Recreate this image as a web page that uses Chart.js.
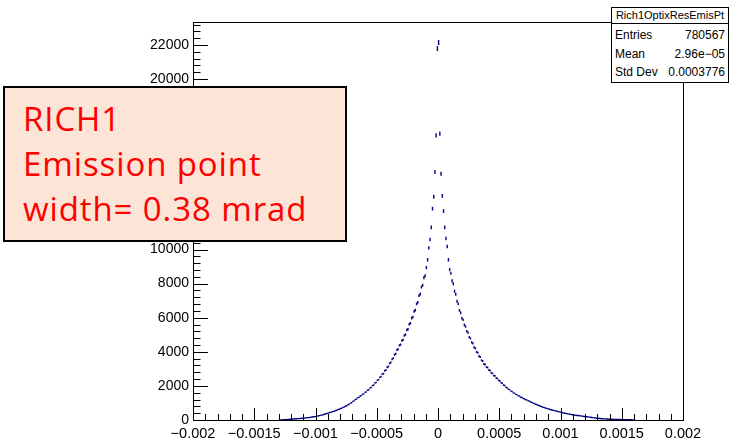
<!DOCTYPE html>
<html>
<head>
<meta charset="utf-8">
<script src="https://cdn.jsdelivr.net/npm/chart.js@4.4.1/dist/chart.umd.min.js"></script>
<style>
  body { margin: 0; background: #fff; }
  #wrap { position: relative; width: 730px; height: 444px; }
  #stats {
    position: absolute; left: 611px; top: 7px; width: 118px; height: 76px;
    box-sizing: border-box; border: 1px solid #000; background: #fff;
    font-family: "Liberation Sans", Arial, sans-serif; color: #000;
  }
  #stats .title { height: 15px; line-height: 15px; font-size: 11px; text-align: center; border-bottom: 1px solid #000; }
  #stats .rows { padding-top: 2px; }
  #stats .row { display: flex; justify-content: space-between; padding: 0 3px; font-size: 12px; height: 18.5px; line-height: 18.5px; }
  #note {
    position: absolute; left: 3px; top: 86px; width: 344px; height: 156px;
    box-sizing: border-box; border: 2px solid #000; background: #fce4d6; color: #ff0000;
    font-family: "Open Sans", "Noto Sans", sans-serif; font-size: 33px; line-height: 45px;
    letter-spacing: 0.9px; padding: 8px 0 0 18px;
  }
</style>
</head>
<body>
<div id="wrap">
  <canvas id="histo"></canvas>
  <div id="stats">
    <div class="title">Rich1OptixResEmisPt</div>
    <div class="rows">
      <div class="row"><span>Entries</span><span>780567</span></div>
      <div class="row"><span>Mean</span><span>2.96e−05</span></div>
      <div class="row"><span>Std Dev</span><span>0.0003776</span></div>
    </div>
  </div>
  <div id="note">RICH1<br>Emission point<br>width= 0.38 mrad</div>
</div>
<script>
(function () {

    // histogram binning (emission point resolution, rad)
    const xMin = -0.002;
    const xMax = 0.002;
    const nBins = 400;
    const yMax = 23350;

    const xTickValues = [-0.002, -0.0015, -0.001, -0.0005, 0, 0.0005, 0.001, 0.0015, 0.002];
    const xTickLabels = ['−0.002', '−0.0015', '−0.001', '−0.0005', '0', '0.0005', '0.001', '0.0015', '0.002'];
    const yTickValues = [0, 2000, 4000, 6000, 8000, 10000, 12000, 14000, 16000, 18000, 20000, 22000];

    // bin contents, first bin at xMin
    const binCounts = [
        0, 0, 0, 0, 0, 0, 0, 0, 0, 0, 0, 0, 0, 0, 0, 0, 0, 0, 0, 0,
        0, 0, 0, 0, 0, 0, 0, 0, 0, 0, 0, 0, 0, 0, 0, 0, 0, 0, 0, 0,
        0, 0, 0, 0, 0, 0, 0, 0, 0, 0, 0, 0, 0, 0, 0, 0, 0, 0, 0, 0,
        0, 0, 0, 0, 0, 0, 0, 0, 0, 0, 0,
        3, 5, 12, 14, 22, 24, 33, 35, 45, 46,
        57, 58, 69, 70, 81, 83, 92, 94, 107, 108,
        121, 123, 139, 141, 150, 168, 172, 191, 196, 219,
        225, 249, 256, 284, 293, 323, 336, 370, 382, 417,
        426, 460, 469, 505, 516, 556, 569, 612, 627, 674,
        690, 742, 760, 818, 838, 899, 922, 991, 1016, 1093,
        1120, 1201, 1232, 1310, 1327, 1408, 1428, 1512, 1534, 1625,
        1648, 1746, 1771, 1878, 1903, 2018, 2047, 2170, 2198, 2331,
        2364, 2505, 2543, 2690, 2726, 2889, 2927, 3099, 3140, 3327,
        3371, 3569, 3617, 3830, 3883, 4111, 4152, 4378, 4419, 4660,
        4703, 4960, 5007, 5281, 5330, 5619, 5674, 5980, 6040, 6372,
        6452, 6818, 6905, 7296, 7390, 7806, 7903, 8352, 8461, 8940,
        9400, 10100, 10590, 11300, 12400, 13100, 14550, 16700, 21800,
        22150, 16800, 14450, 13150, 12250, 11300, 10650, 10180, 9400, 8820,
        8610, 8160, 7990, 7552, 7381, 6968, 6812, 6431, 6290, 5972,
        5878, 5580, 5489, 5207, 5125, 4860, 4790, 4552, 4490, 4265,
        4210, 3998, 3945, 3746, 3698, 3511, 3467, 3290, 3260, 3104,
        3077, 2930, 2902, 2764, 2738, 2608, 2584, 2462, 2439, 2323,
        2295, 2181, 2154, 2047, 2022, 1921, 1897, 1803, 1781, 1692,
        1671, 1592, 1577, 1502, 1488, 1417, 1404, 1337, 1324, 1261,
        1249, 1190, 1178, 1122, 1112, 1060, 1044, 989, 975, 924,
        911, 862, 850, 806, 794, 752, 741, 702, 692, 655,
        646, 612, 604, 572, 564, 533, 527, 498, 492, 463,
        455, 427, 420, 394, 388, 365, 358, 336, 331, 310,
        305, 287, 282, 265, 261, 245, 241, 226, 223, 208,
        206, 192, 186, 168, 160, 143, 137, 123, 118, 105,
        101, 90, 87, 77, 75, 66, 65, 57, 55, 48,
        47, 42, 41, 36, 35, 30, 29, 27, 25, 23,
        21, 19, 18, 16, 15, 14, 12, 11, 10, 9,
        8,
        0, 0, 0, 0, 0, 0, 0, 0, 0, 0, 0, 0, 0, 0, 0, 0, 0, 0, 0, 0,
        0, 0, 0, 0, 0, 0, 0, 0, 0, 0, 0, 0, 0, 0, 0, 0, 0, 0, 0
    ];

    const binWidth = (xMax - xMin) / nBins;
    const histColor = '#000080';
    const axisFont = { family: '"Liberation Sans", Arial, sans-serif', size: 14 };

    // empty bins are not drawn
    const points = [];
    binCounts.forEach((c, i) => {
        if (c > 0) points.push({ x: xMin + (i + 0.5) * binWidth, y: c });
    });

    // sqrt(N) vertical bars plus bin-width horizontal bars, like TH1 "E"
    const errorBars = {
        id: 'errorBars',
        afterDatasetsDraw(chart) {
            const ctx = chart.ctx;
            const x = chart.scales.x, y = chart.scales.y;
            ctx.save();
            ctx.strokeStyle = histColor;
            ctx.lineWidth = 1.4;
            ctx.beginPath();
            chart.data.datasets[0].data.forEach((p) => {
                const err = Math.sqrt(p.y);
                const px = x.getPixelForValue(p.x);
                const py = y.getPixelForValue(p.y);
                ctx.moveTo(px, y.getPixelForValue(p.y - err));
                ctx.lineTo(px, y.getPixelForValue(p.y + err));
                ctx.moveTo(x.getPixelForValue(p.x - binWidth / 2), py);
                ctx.lineTo(x.getPixelForValue(p.x + binWidth / 2), py);
            });
            ctx.stroke();
            ctx.restore();
        }
    };

    // frame box and inward ticks (primary + secondary divisions)
    const rootFrame = {
        id: 'rootFrame',
        afterDraw(chart) {
            const ctx = chart.ctx;
            const a = chart.chartArea;
            const x = chart.scales.x, y = chart.scales.y;
            ctx.save();
            ctx.strokeStyle = '#000';
            ctx.lineWidth = 1;
            ctx.strokeRect(a.left + 0.5, a.top + 0.5, a.right - a.left, a.bottom - a.top);
            ctx.beginPath();
            for (let j = -20; j <= 20; j++) {
                const px = Math.round(x.getPixelForValue(j * 0.0001)) + 0.5;
                const len = j % 5 === 0 ? 12 : 6;
                ctx.moveTo(px, a.bottom);
                ctx.lineTo(px, a.bottom - len);
            }
            for (let j = 0; j * 400 <= yMax; j++) {
                const py = Math.round(y.getPixelForValue(j * 400)) + 0.5;
                const len = j % 5 === 0 ? 15 : 7.5;
                ctx.moveTo(a.left, py);
                ctx.lineTo(a.left + len, py);
            }
            ctx.stroke();
            ctx.restore();
        }
    };

    new Chart(document.getElementById('histo'), {
        type: 'scatter',
        data: {
            datasets: [{
                label: 'Rich1OptixResEmisPt',
                data: points,
                pointRadius: 0,
                pointHoverRadius: 0,
                showLine: false,
                borderColor: histColor,
                backgroundColor: histColor
            }]
        },
        options: {
            responsive: true,
            maintainAspectRatio: false,
            animation: false,
            events: [],
            layout: { padding: { top: 22, right: 47, left: 0, bottom: 0 } },
            plugins: {
                legend: { display: false },
                tooltip: { enabled: false }
            },
            scales: {
                x: {
                    type: 'linear',
                    min: xMin,
                    max: xMax,
                    grid: { display: false, drawTicks: false },
                    border: { display: false },
                    afterFit: (scale) => { scale.height = 24; },
                    afterBuildTicks: (scale) => { scale.ticks = xTickValues.map(v => ({ value: v })); },
                    ticks: {
                        autoSkip: false,
                        maxRotation: 0,
                        padding: 5,
                        color: '#000',
                        font: { family: axisFont.family, size: 14.5 },
                        callback: (v, i) => xTickLabels[i]
                    }
                },
                y: {
                    type: 'linear',
                    min: 0,
                    max: yMax,
                    grid: { display: false, drawTicks: false },
                    border: { display: false },
                    afterFit: (scale) => { scale.width = 193; },
                    afterBuildTicks: (scale) => { scale.ticks = yTickValues.map(v => ({ value: v })); },
                    ticks: {
                        padding: 4,
                        color: '#000',
                        font: axisFont,
                        callback: (v) => String(v)
                    }
                }
            }
        },
        plugins: [errorBars, rootFrame]
    });

})();
</script>
</body>
</html>
